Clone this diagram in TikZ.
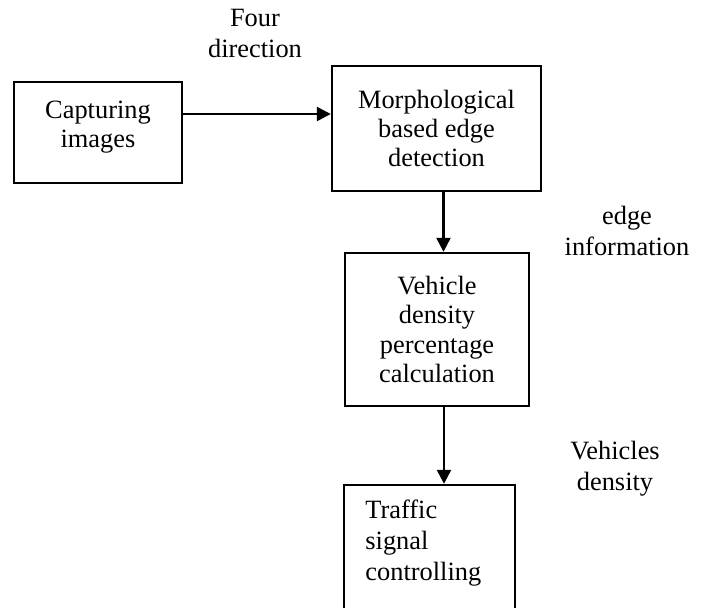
\documentclass[tikz,border=0pt]{standalone}
\usepackage{fontspec}
\setmainfont{Liberation Serif}
\usetikzlibrary{arrows.meta}
\tikzset{
    blockbox/.style={draw, line width=1.2pt, align=center, inner sep=0pt, font=\fontsize{13.2}{14.6}\selectfont},
    labeltext/.style={align=center, inner sep=0pt, font=\fontsize{13.2}{15.5}\selectfont},
    arr/.style={line width=1.2pt, -{Triangle[length=7pt,width=7pt]}}
}
\begin{document}
\begin{tikzpicture}[x=0.5pt,y=-0.5pt]
            \useasboundingbox (0,0) rectangle (707,607);
            \clip (0,0) rectangle (707,607);

            % boxes
            \node[blockbox, minimum width=84pt, minimum height=50.5pt] (capture) at (98,132.5) {Capturing\\images\rule[-8pt]{0pt}{0pt}};
            \node[blockbox, minimum width=104.5pt, minimum height=62.5pt] (morph) at (436.5,128.5) {Morphological\\based edge\\detection};
            \node[blockbox, minimum width=92pt, minimum height=76.5pt] (density) at (437,329.5) {Vehicle\\density\\percentage\\calculation};
            \node[blockbox, minimum width=85.5pt, minimum height=80pt] (signal) at (429.5,565) {};
            \node[labeltext, align=left, anchor=north west] (signaltext) at (365,499) {Traffic\\signal\\controlling};

            % labels
            \node[labeltext] (fourdir) at (255,33) {Four\\direction};
            \node[labeltext] (edgeinfo) at (627,231) {edge\\information};
            \node[labeltext] (vehdens) at (615,469) {Vehicles\\density};

            % arrows
            \draw[arr] ([yshift=9.25pt]capture.east) -- ([yshift=7.25pt]morph.west);
            \draw[arr] ([xshift=3.5pt]morph.south) -- ([xshift=3.25pt]density.north);
            \draw[arr] ([xshift=3.5pt]density.south) -- ([xshift=7.25pt]signal.north);
        \end{tikzpicture}
\end{document}
